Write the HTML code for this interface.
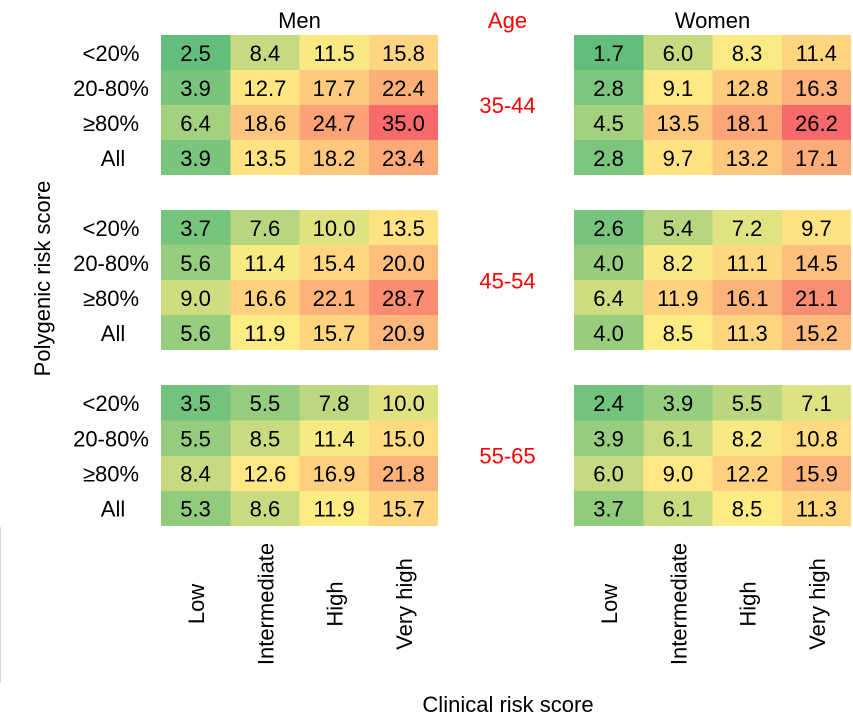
<!DOCTYPE html>
<html>
<head>
<meta charset="utf-8">
<style>
html,body{margin:0;padding:0;background:#fff;}
svg{display:block;}
text{font-family:"Liberation Sans",sans-serif;font-size:22px;fill:#000;}
.r{fill:#ff0000;}
</style>
</head>
<body>
<svg width="853" height="721" viewBox="0 0 853 721" xmlns="http://www.w3.org/2000/svg">
<rect x="0" y="0" width="853" height="721" fill="#fff"/>
<line x1="0.5" y1="527" x2="0.5" y2="683" stroke="#d9d9d9" stroke-width="1"/>

<g shape-rendering="crispEdges">
<!-- MEN 35-44 -->
<rect x="161" y="35" width="69.5" height="35" fill="rgb(99,190,123)"/>
<rect x="230.25" y="35" width="69.5" height="35" fill="rgb(197,218,129)"/>
<rect x="299.5" y="35" width="69.5" height="35" fill="rgb(248,233,132)"/>
<rect x="368.75" y="35" width="69.25" height="35" fill="rgb(254,213,128)"/>
<rect x="161" y="70" width="69.5" height="35" fill="rgb(122,197,124)"/>
<rect x="230.25" y="70" width="69.5" height="35" fill="rgb(255,230,131)"/>
<rect x="299.5" y="70" width="69.5" height="35" fill="rgb(253,202,126)"/>
<rect x="368.75" y="70" width="69.25" height="35" fill="rgb(252,176,121)"/>
<rect x="161" y="105" width="69.5" height="35" fill="rgb(164,209,127)"/>
<rect x="230.25" y="105" width="69.5" height="35" fill="rgb(253,197,125)"/>
<rect x="299.5" y="105" width="69.5" height="35" fill="rgb(251,163,118)"/>
<rect x="368.75" y="105" width="69.25" height="35" fill="rgb(248,105,107)"/>
<rect x="161" y="140" width="69.5" height="35" fill="rgb(122,197,124)"/>
<rect x="230.25" y="140" width="69.5" height="35" fill="rgb(255,226,130)"/>
<rect x="299.5" y="140" width="69.5" height="35" fill="rgb(253,200,125)"/>
<rect x="368.75" y="140" width="69.25" height="35" fill="rgb(252,170,120)"/>
<!-- MEN 45-54 -->
<rect x="161" y="210" width="69.5" height="35" fill="rgb(119,196,124)"/>
<rect x="230.25" y="210" width="69.5" height="35" fill="rgb(184,214,128)"/>
<rect x="299.5" y="210" width="69.5" height="35" fill="rgb(224,226,130)"/>
<rect x="368.75" y="210" width="69.25" height="35" fill="rgb(255,226,130)"/>
<rect x="161" y="245" width="69.5" height="35" fill="rgb(150,205,126)"/>
<rect x="230.25" y="245" width="69.5" height="35" fill="rgb(247,233,131)"/>
<rect x="299.5" y="245" width="69.5" height="35" fill="rgb(254,215,128)"/>
<rect x="368.75" y="245" width="69.25" height="35" fill="rgb(253,189,123)"/>
<rect x="161" y="280" width="69.5" height="35" fill="rgb(207,221,129)"/>
<rect x="230.25" y="280" width="69.5" height="35" fill="rgb(254,209,127)"/>
<rect x="299.5" y="280" width="69.5" height="35" fill="rgb(252,178,121)"/>
<rect x="368.75" y="280" width="69.25" height="35" fill="rgb(250,140,114)"/>
<rect x="161" y="315" width="69.5" height="35" fill="rgb(150,205,126)"/>
<rect x="230.25" y="315" width="69.5" height="35" fill="rgb(255,235,132)"/>
<rect x="299.5" y="315" width="69.5" height="35" fill="rgb(254,214,128)"/>
<rect x="368.75" y="315" width="69.25" height="35" fill="rgb(252,184,122)"/>
<!-- MEN 55-65 -->
<rect x="161" y="385" width="69.5" height="35.5" fill="rgb(116,195,124)"/>
<rect x="230.25" y="385" width="69.5" height="35.5" fill="rgb(149,204,126)"/>
<rect x="299.5" y="385" width="69.5" height="35.5" fill="rgb(187,215,128)"/>
<rect x="368.75" y="385" width="69.25" height="35.5" fill="rgb(224,226,130)"/>
<rect x="161" y="420.5" width="69.5" height="35.25" fill="rgb(149,204,126)"/>
<rect x="230.25" y="420.5" width="69.5" height="35.25" fill="rgb(199,219,129)"/>
<rect x="299.5" y="420.5" width="69.5" height="35.25" fill="rgb(247,233,131)"/>
<rect x="368.75" y="420.5" width="69.25" height="35.25" fill="rgb(254,218,129)"/>
<rect x="161" y="455.75" width="69.5" height="35.25" fill="rgb(197,218,129)"/>
<rect x="230.25" y="455.75" width="69.5" height="35.25" fill="rgb(255,231,131)"/>
<rect x="299.5" y="455.75" width="69.5" height="35.25" fill="rgb(253,207,127)"/>
<rect x="368.75" y="455.75" width="69.25" height="35.25" fill="rgb(252,179,121)"/>
<rect x="161" y="491" width="69.5" height="35" fill="rgb(145,203,126)"/>
<rect x="230.25" y="491" width="69.5" height="35" fill="rgb(200,219,129)"/>
<rect x="299.5" y="491" width="69.5" height="35" fill="rgb(255,235,132)"/>
<rect x="368.75" y="491" width="69.25" height="35" fill="rgb(254,214,128)"/>

<!-- WOMEN 35-44 -->
<rect x="574" y="35" width="69.5" height="35" fill="rgb(99,190,123)"/>
<rect x="643.25" y="35" width="69.5" height="35" fill="rgb(198,218,129)"/>
<rect x="712.5" y="35" width="69.5" height="35" fill="rgb(250,234,132)"/>
<rect x="781.75" y="35" width="69.25" height="35" fill="rgb(254,214,128)"/>
<rect x="574" y="70" width="69.5" height="35" fill="rgb(124,197,124)"/>
<rect x="643.25" y="70" width="69.5" height="35" fill="rgb(255,231,131)"/>
<rect x="712.5" y="70" width="69.5" height="35" fill="rgb(253,203,126)"/>
<rect x="781.75" y="70" width="69.25" height="35" fill="rgb(252,178,121)"/>
<rect x="574" y="105" width="69.5" height="35" fill="rgb(163,209,127)"/>
<rect x="643.25" y="105" width="69.5" height="35" fill="rgb(253,198,125)"/>
<rect x="712.5" y="105" width="69.5" height="35" fill="rgb(251,165,118)"/>
<rect x="781.75" y="105" width="69.25" height="35" fill="rgb(248,105,107)"/>
<rect x="574" y="140" width="69.5" height="35" fill="rgb(124,197,124)"/>
<rect x="643.25" y="140" width="69.5" height="35" fill="rgb(255,226,130)"/>
<rect x="712.5" y="140" width="69.5" height="35" fill="rgb(253,200,125)"/>
<rect x="781.75" y="140" width="69.25" height="35" fill="rgb(252,172,120)"/>
<!-- WOMEN 45-54 -->
<rect x="574" y="210" width="69.5" height="35" fill="rgb(120,196,124)"/>
<rect x="643.25" y="210" width="69.5" height="35" fill="rgb(184,214,128)"/>
<rect x="712.5" y="210" width="69.5" height="35" fill="rgb(225,226,130)"/>
<rect x="781.75" y="210" width="69.25" height="35" fill="rgb(255,226,130)"/>
<rect x="574" y="245" width="69.5" height="35" fill="rgb(152,205,126)"/>
<rect x="643.25" y="245" width="69.5" height="35" fill="rgb(248,233,132)"/>
<rect x="712.5" y="245" width="69.5" height="35" fill="rgb(254,216,128)"/>
<rect x="781.75" y="245" width="69.25" height="35" fill="rgb(253,191,124)"/>
<rect x="574" y="280" width="69.5" height="35" fill="rgb(207,221,129)"/>
<rect x="643.25" y="280" width="69.5" height="35" fill="rgb(254,210,127)"/>
<rect x="712.5" y="280" width="69.5" height="35" fill="rgb(252,179,121)"/>
<rect x="781.75" y="280" width="69.25" height="35" fill="rgb(250,142,114)"/>
<rect x="574" y="315" width="69.5" height="35" fill="rgb(152,205,126)"/>
<rect x="643.25" y="315" width="69.5" height="35" fill="rgb(255,235,132)"/>
<rect x="712.5" y="315" width="69.5" height="35" fill="rgb(254,214,128)"/>
<rect x="781.75" y="315" width="69.25" height="35" fill="rgb(252,186,123)"/>
<!-- WOMEN 55-65 -->
<rect x="574" y="385" width="69.5" height="35.5" fill="rgb(115,195,124)"/>
<rect x="643.25" y="385" width="69.5" height="35.5" fill="rgb(150,205,126)"/>
<rect x="712.5" y="385" width="69.5" height="35.5" fill="rgb(186,215,128)"/>
<rect x="781.75" y="385" width="69.25" height="35.5" fill="rgb(223,226,130)"/>
<rect x="574" y="420.5" width="69.5" height="35.25" fill="rgb(150,205,126)"/>
<rect x="643.25" y="420.5" width="69.5" height="35.25" fill="rgb(200,219,129)"/>
<rect x="712.5" y="420.5" width="69.5" height="35.25" fill="rgb(248,233,132)"/>
<rect x="781.75" y="420.5" width="69.25" height="35.25" fill="rgb(254,218,129)"/>
<rect x="574" y="455.75" width="69.5" height="35.25" fill="rgb(198,218,129)"/>
<rect x="643.25" y="455.75" width="69.5" height="35.25" fill="rgb(255,231,131)"/>
<rect x="712.5" y="455.75" width="69.5" height="35.25" fill="rgb(254,208,127)"/>
<rect x="781.75" y="455.75" width="69.25" height="35.25" fill="rgb(252,181,122)"/>
<rect x="574" y="491" width="69.5" height="35" fill="rgb(145,203,126)"/>
<rect x="643.25" y="491" width="69.5" height="35" fill="rgb(200,219,129)"/>
<rect x="712.5" y="491" width="69.5" height="35" fill="rgb(255,235,132)"/>
<rect x="781.75" y="491" width="69.25" height="35" fill="rgb(254,214,128)"/>
</g>

<!-- Titles -->
<text x="299.5" y="28" text-anchor="middle">Men</text>
<text x="712.5" y="28" text-anchor="middle">Women</text>
<text class="r" x="507.5" y="28" text-anchor="middle">Age</text>
<text class="r" x="507.5" y="113" text-anchor="middle">35-44</text>
<text class="r" x="507.5" y="288.5" text-anchor="middle">45-54</text>
<text class="r" x="507.5" y="463.5" text-anchor="middle">55-65</text>

<!-- Row labels -->
<g text-anchor="middle">
<text x="111" y="61">&lt;20%</text>
<text x="111" y="96">20-80%</text>
<text x="111" y="131">≥80%</text>
<text x="113" y="166">All</text>
<text x="111" y="236">&lt;20%</text>
<text x="111" y="271">20-80%</text>
<text x="111" y="306">≥80%</text>
<text x="113" y="341">All</text>
<text x="111" y="411">&lt;20%</text>
<text x="111" y="446.5">20-80%</text>
<text x="111" y="481.5">≥80%</text>
<text x="113" y="516.5">All</text>
</g>

<!-- Men values -->
<g text-anchor="middle">
<text x="195.6" y="61">2.5</text><text x="264.9" y="61">8.4</text><text x="334.1" y="61">11.5</text><text x="403.4" y="61">15.8</text>
<text x="195.6" y="96">3.9</text><text x="264.9" y="96">12.7</text><text x="334.1" y="96">17.7</text><text x="403.4" y="96">22.4</text>
<text x="195.6" y="131">6.4</text><text x="264.9" y="131">18.6</text><text x="334.1" y="131">24.7</text><text x="403.4" y="131">35.0</text>
<text x="195.6" y="166">3.9</text><text x="264.9" y="166">13.5</text><text x="334.1" y="166">18.2</text><text x="403.4" y="166">23.4</text>

<text x="195.6" y="236">3.7</text><text x="264.9" y="236">7.6</text><text x="334.1" y="236">10.0</text><text x="403.4" y="236">13.5</text>
<text x="195.6" y="271">5.6</text><text x="264.9" y="271">11.4</text><text x="334.1" y="271">15.4</text><text x="403.4" y="271">20.0</text>
<text x="195.6" y="306">9.0</text><text x="264.9" y="306">16.6</text><text x="334.1" y="306">22.1</text><text x="403.4" y="306">28.7</text>
<text x="195.6" y="341">5.6</text><text x="264.9" y="341">11.9</text><text x="334.1" y="341">15.7</text><text x="403.4" y="341">20.9</text>

<text x="195.6" y="411">3.5</text><text x="264.9" y="411">5.5</text><text x="334.1" y="411">7.8</text><text x="403.4" y="411">10.0</text>
<text x="195.6" y="446.5">5.5</text><text x="264.9" y="446.5">8.5</text><text x="334.1" y="446.5">11.4</text><text x="403.4" y="446.5">15.0</text>
<text x="195.6" y="481.5">8.4</text><text x="264.9" y="481.5">12.6</text><text x="334.1" y="481.5">16.9</text><text x="403.4" y="481.5">21.8</text>
<text x="195.6" y="516.5">5.3</text><text x="264.9" y="516.5">8.6</text><text x="334.1" y="516.5">11.9</text><text x="403.4" y="516.5">15.7</text>
</g>

<!-- Women values -->
<g text-anchor="middle">
<text x="608.6" y="61">1.7</text><text x="677.9" y="61">6.0</text><text x="747.1" y="61">8.3</text><text x="816.4" y="61">11.4</text>
<text x="608.6" y="96">2.8</text><text x="677.9" y="96">9.1</text><text x="747.1" y="96">12.8</text><text x="816.4" y="96">16.3</text>
<text x="608.6" y="131">4.5</text><text x="677.9" y="131">13.5</text><text x="747.1" y="131">18.1</text><text x="816.4" y="131">26.2</text>
<text x="608.6" y="166">2.8</text><text x="677.9" y="166">9.7</text><text x="747.1" y="166">13.2</text><text x="816.4" y="166">17.1</text>

<text x="608.6" y="236">2.6</text><text x="677.9" y="236">5.4</text><text x="747.1" y="236">7.2</text><text x="816.4" y="236">9.7</text>
<text x="608.6" y="271">4.0</text><text x="677.9" y="271">8.2</text><text x="747.1" y="271">11.1</text><text x="816.4" y="271">14.5</text>
<text x="608.6" y="306">6.4</text><text x="677.9" y="306">11.9</text><text x="747.1" y="306">16.1</text><text x="816.4" y="306">21.1</text>
<text x="608.6" y="341">4.0</text><text x="677.9" y="341">8.5</text><text x="747.1" y="341">11.3</text><text x="816.4" y="341">15.2</text>

<text x="608.6" y="411">2.4</text><text x="677.9" y="411">3.9</text><text x="747.1" y="411">5.5</text><text x="816.4" y="411">7.1</text>
<text x="608.6" y="446.5">3.9</text><text x="677.9" y="446.5">6.1</text><text x="747.1" y="446.5">8.2</text><text x="816.4" y="446.5">10.8</text>
<text x="608.6" y="481.5">6.0</text><text x="677.9" y="481.5">9.0</text><text x="747.1" y="481.5">12.2</text><text x="816.4" y="481.5">15.9</text>
<text x="608.6" y="516.5">3.7</text><text x="677.9" y="516.5">6.1</text><text x="747.1" y="516.5">8.5</text><text x="816.4" y="516.5">11.3</text>
</g>

<!-- Column labels -->
<g text-anchor="middle">
<text transform="translate(204,604) rotate(-90)">Low</text>
<text transform="translate(273.4,604) rotate(-90)">Intermediate</text>
<text transform="translate(342.6,604) rotate(-90)">High</text>
<text transform="translate(411.9,604) rotate(-90)">Very high</text>
<text transform="translate(617.1,604) rotate(-90)">Low</text>
<text transform="translate(686.4,604) rotate(-90)">Intermediate</text>
<text transform="translate(755.6,604) rotate(-90)">High</text>
<text transform="translate(824.9,604) rotate(-90)">Very high</text>
</g>

<!-- Axis titles -->
<text transform="translate(50,278.5) rotate(-90)" text-anchor="middle">Polygenic risk score</text>
<text x="508" y="712" text-anchor="middle">Clinical risk score</text>
</svg>
</body>
</html>
